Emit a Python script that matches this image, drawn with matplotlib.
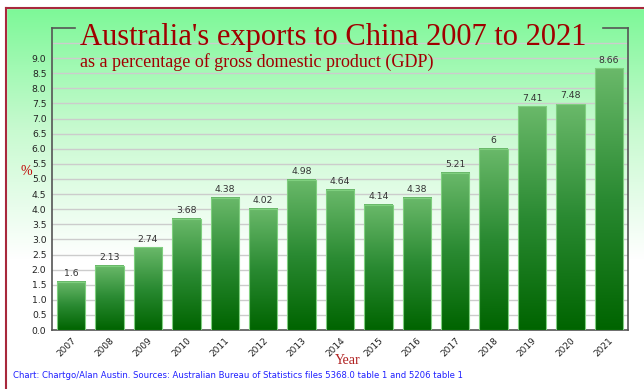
import numpy as np
import matplotlib
matplotlib.use("Agg")
import matplotlib.pyplot as plt
from matplotlib.colors import LinearSegmentedColormap
from matplotlib.patches import Rectangle
from matplotlib.lines import Line2D

years = ["2007", "2008", "2009", "2010", "2011", "2012", "2013", "2014",
         "2015", "2016", "2017", "2018", "2019", "2020", "2021"]
values = [1.6, 2.13, 2.74, 3.68, 4.38, 4.02, 4.98, 4.64,
          4.14, 4.38, 5.21, 6, 7.41, 7.48, 8.66]
value_labels = ["1.6", "2.13", "2.74", "3.68", "4.38", "4.02", "4.98", "4.64",
                "4.14", "4.38", "5.21", "6", "7.41", "7.48", "8.66"]
yticks = np.arange(0, 9.01, 0.5)

W, H = 644, 389
fig = plt.figure(figsize=(W / 100, H / 100), dpi=100)

# background gradient (green top -> white bottom)
bg = fig.add_axes([0, 0, 1, 1], zorder=0)
bg_cmap = LinearSegmentedColormap.from_list("bg", ["#ffffff", "#ffffff", "#c8fad0", "#78f894"])
grad = np.linspace(0, 1, 256).reshape(-1, 1)
bg.imshow(grad, aspect="auto", cmap=bg_cmap, origin="lower", extent=(0, 1, 0, 1))
bg.set_xlim(0, 1)
bg.set_ylim(0, 1)
bg.axis("off")
# white strip above / left of the border
bg.add_patch(Rectangle((0, 1 - 8 / H), 1, 8 / H, color="white", zorder=2))
bg.add_patch(Rectangle((0, 0), 6 / W, 1, color="white", zorder=2))
bg.add_line(Line2D([6 / W, 6 / W], [0, 1 - 8 / H], color="#a8283c", lw=1.5, zorder=3))
bg.add_line(Line2D([6 / W, 1], [1 - 8 / H, 1 - 8 / H], color="#a8283c", lw=1.5, zorder=3))

ax = fig.add_axes([52 / W, 1 - 330 / H, 576 / W, 302 / H], zorder=1)
ax.patch.set_alpha(0)

x = np.arange(len(years))
bw = 0.74
bar_cmap = LinearSegmentedColormap.from_list("bar", ["#006400", "#2a8a32", "#6ab96a"])
for xi, v, lab in zip(x, values, value_labels):
    ax.imshow(grad, aspect="auto", cmap=bar_cmap, origin="lower",
              extent=(xi - bw / 2, xi + bw / 2, 0, v), zorder=3)
    ax.add_patch(Rectangle((xi - bw / 2, 0), bw, v, fill=False,
                           edgecolor="#7fcf7f", lw=0.8, zorder=4))
    ax.text(xi, v + 0.12, lab, ha="center", va="bottom", fontsize=6.7,
            color="#333333", zorder=5)

ax.set_xlim(-0.5, len(years) - 0.5)
ax.set_ylim(0, 10)
for g in np.arange(0.5, 9.51, 0.5):
    ax.axhline(g, color="#cccccc", lw=1, zorder=1)
ax.set_yticks(yticks)
ax.set_yticklabels([f"{t:.1f}" for t in yticks], fontsize=6.7, color="#222222")
ax.set_xticks(x)
ax.set_xticklabels(years, rotation=45, ha="right", rotation_mode="anchor",
                   fontsize=6.5, color="#222222")
ax.tick_params(length=0, pad=4)

ax.spines["top"].set_visible(False)
for s in ["left", "right", "bottom"]:
    ax.spines[s].set_color("#555555")
    ax.spines[s].set_linewidth(1.2)
ax.add_line(Line2D([-0.5, 0.1], [10, 10], color="#555555", lw=1.2, clip_on=False))
ax.add_line(Line2D([13.85, 14.5], [10, 10], color="#555555", lw=1.2, clip_on=False))

fig.text(80 / W, 1 - 38 / H, "Australia's exports to China 2007 to 2021",
         family="Liberation Serif", fontsize=22, color="#a00000", va="center")
fig.text(80 / W, 1 - 62 / H, "as a percentage of gross domestic product (GDP)",
         family="Liberation Serif", fontsize=13, color="#a00000", va="center")
fig.text(26 / W, 1 - 172 / H, "%", family="Liberation Serif", fontsize=10,
         color="#c00000", ha="center", va="center")
fig.text(348 / W, 1 - 360 / H, "Year", family="Liberation Serif", fontsize=10,
         color="#b02020", ha="center", va="center")
fig.text(13 / W, 1 - 376 / H,
         "Chart: Chartgo/Alan Austin. Sources: Australian Bureau of Statistics files 5368.0 table 1 and 5206 table 1",
         fontsize=6.1, color="#2020ff", va="center")

fig.savefig("out.png", dpi=100)
